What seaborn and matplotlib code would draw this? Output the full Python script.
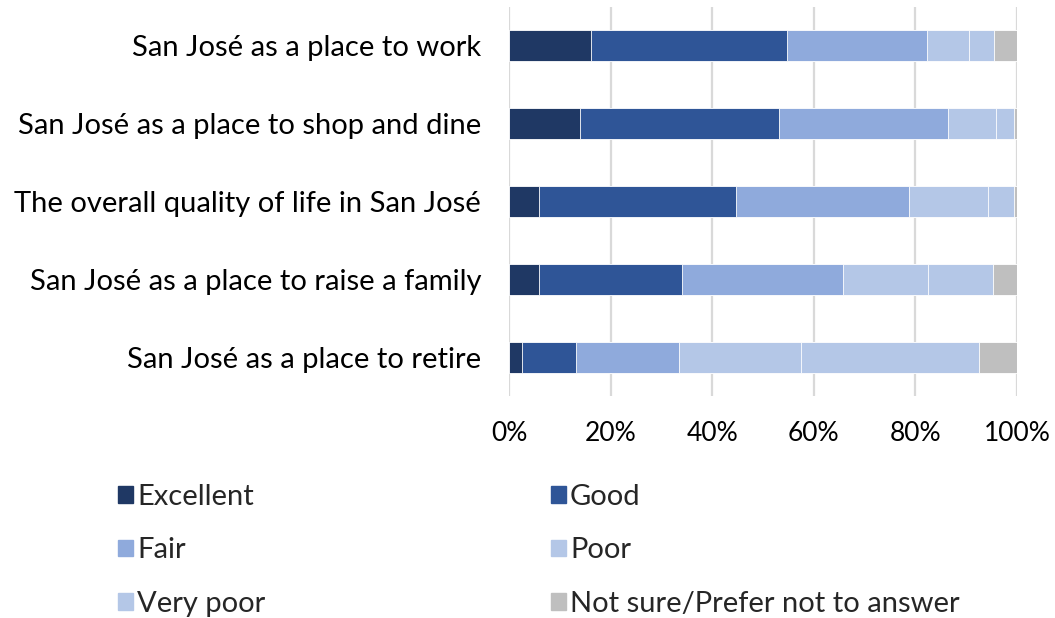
import matplotlib
matplotlib.use("Agg")
import matplotlib.pyplot as plt
import matplotlib.patches as mpatches
import seaborn as sns
import numpy as np
import pandas as pd

categories = [
    "San José as a place to work",
    "San José as a place to shop and dine",
    "The overall quality of life in San José",
    "San José as a place to raise a family",
    "San José as a place to retire",
]
series_names = ["Excellent", "Good", "Fair", "Poor", "Very poor",
                "Not sure/Prefer not to answer"]
excellent = [16.2, 14.0, 6.0, 5.9, 2.5]
good = [38.5, 39.2, 38.7, 28.2, 10.6]
fair = [27.6, 33.2, 34.1, 31.7, 20.3]
poor = [8.2, 9.5, 15.4, 16.6, 24.0]
very_poor = [4.9, 3.6, 5.3, 12.9, 35.2]
not_sure = [4.6, 0.5, 0.5, 4.7, 7.4]
colors = ["#1F3864", "#2F5597", "#8FAADC", "#B4C7E7", "#B4C7E7", "#BFBFBF"]
tick_labels = ["0%", "20%", "40%", "60%", "80%", "100%"]

sns.set_theme(style="white")
plt.rcParams["font.family"] = ["Lato", "DejaVu Sans"]

values = np.array([excellent, good, fair, poor, very_poor, not_sure])
cum = np.cumsum(values, axis=0)
cum = cum / cum[-1] * 100.0

fig = plt.figure(figsize=(10.55, 6.18), dpi=100)
ax = fig.add_axes([509 / 1055, 1 - 396 / 618, (1017 - 509) / 1055, (396 - 7) / 618])

for i in range(len(series_names) - 1, -1, -1):
    df = pd.DataFrame({"category": categories, "value": cum[i]})
    sns.barplot(data=df, x="value", y="category", orient="y", color=colors[i],
                width=0.4, edgecolor="#FFFFFF", linewidth=0.6, saturation=1,
                ax=ax, zorder=3)

ax.set_xlim(0, 100)
ax.set_ylim(4.5, -0.5)
ax.set_xticks([0, 20, 40, 60, 80, 100])
ax.set_xticklabels(tick_labels)
ax.set_xlabel("")
ax.set_ylabel("")
ax.grid(axis="x", color="#D9D9D9", linewidth=1.6, zorder=0)
ax.grid(axis="y", visible=False)
for s in ax.spines.values():
    s.set_visible(False)
ax.tick_params(axis="x", length=0, pad=18, labelsize=19, colors="black")
ax.tick_params(axis="y", length=0, pad=20, labelsize=21, colors="black")

handles = [mpatches.Patch(color=c) for c in colors]
leg_kw = dict(loc="upper left", frameon=False, fontsize=21, handlelength=0.5,
              handleheight=0.5, handletextpad=0.15, labelspacing=0.94,
              borderpad=0, borderaxespad=0)
fig.legend([handles[0], handles[2], handles[4]],
           [series_names[0], series_names[2], series_names[4]],
           bbox_to_anchor=(118 / 1055, 1 - 484 / 618), **leg_kw)
fig.legend([handles[1], handles[3], handles[5]],
           [series_names[1], series_names[3], series_names[5]],
           bbox_to_anchor=(551 / 1055, 1 - 484 / 618), **leg_kw)

fig.savefig("out.png", dpi=100)
